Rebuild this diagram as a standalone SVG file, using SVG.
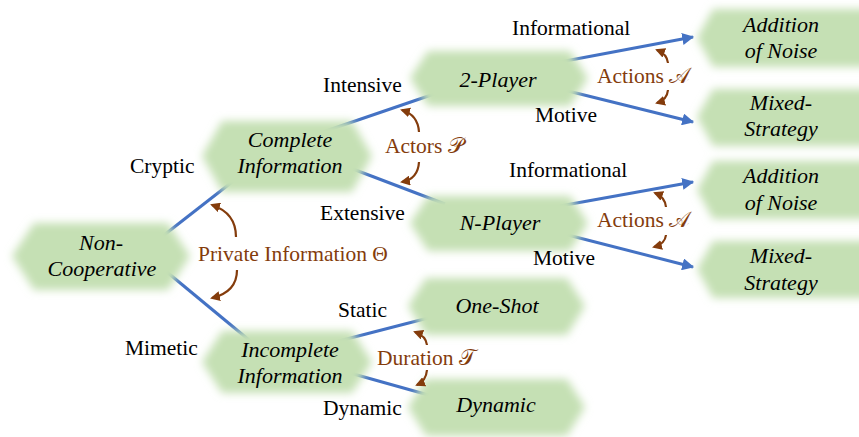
<svg xmlns="http://www.w3.org/2000/svg" width="859" height="437" viewBox="0 0 859 437">
<defs>
<filter id="soft" x="-10%" y="-20%" width="120%" height="140%"><feGaussianBlur stdDeviation="4.5"/></filter>
<marker id="blueHead" viewBox="0 0 10 10" refX="9" refY="5" markerWidth="4" markerHeight="4" orient="auto" markerUnits="strokeWidth"><path d="M0,0 L10,5 L0,10 z" fill="#4472c4"/></marker>
<marker id="brownHead" viewBox="0 0 10 10" refX="8" refY="5" markerWidth="4.5" markerHeight="4.5" orient="auto" markerUnits="strokeWidth"><path d="M0,0 L10,5 L0,10 z" fill="#843c0c"/></marker>
</defs>
<rect width="859" height="437" fill="#fff"/>
<g id="connectors" stroke="#4472c4" stroke-width="3" fill="none">
<line x1="150" y1="246" x2="250" y2="168"/>
<line x1="150" y1="258" x2="255" y2="345"/>
<line x1="320" y1="133" x2="440" y2="92"/>
<line x1="345" y1="166" x2="445" y2="204"/>
<line x1="335" y1="342" x2="432" y2="317"/>
<line x1="350" y1="373" x2="432" y2="396"/>
<line marker-end="url(#blueHead)" x1="560" y1="62" x2="693" y2="37"/>
<line marker-end="url(#blueHead)" x1="560" y1="89" x2="693" y2="122"/>
<line marker-end="url(#blueHead)" x1="560" y1="206" x2="693" y2="182"/>
<line marker-end="url(#blueHead)" x1="560" y1="233" x2="693" y2="267"/>
</g>
<g id="nodes" fill="#c5e0b4" filter="url(#soft)">
<path id="shape-noncoop" d="M12,256 L34,223 L168,223 L190,256 L168,290 L34,290 Z"/>
<path id="shape-complete" d="M202,156 L222,121 L352,121 L372,156 L352,192 L222,192 Z"/>
<path id="shape-2player" d="M410,78 L428,51 L570,51 L588,78 L570,106 L428,106 Z"/>
<path id="shape-nplayer" d="M410,223 L428,196 L570,196 L588,223 L570,251 L428,251 Z"/>
<path id="shape-add1" d="M697,38 L713,9 L870,9 L870,67 L713,67 Z"/>
<path id="shape-mix1" d="M697,117 L713,89 L870,89 L870,146 L713,146 Z"/>
<path id="shape-add2" d="M697,190 L713,161 L870,161 L870,219 L713,219 Z"/>
<path id="shape-mix2" d="M697,269 L713,241 L870,241 L870,298 L713,298 Z"/>
<path id="shape-incomplete" d="M202,362 L222,331 L352,331 L372,362 L352,393 L222,393 Z"/>
<path id="shape-oneshot" d="M408,306 L426,278 L567,278 L585,306 L567,335 L426,335 Z"/>
<path id="shape-dynamic" d="M408,407 L426,379 L567,379 L585,407 L567,436 L426,436 Z"/>
</g>
<g id="node-texts" font-family="'Liberation Serif', 'Times New Roman', serif" font-style="italic" font-size="22px" fill="#000" text-anchor="middle">
<g id="n-noncoop"><text x="101" y="250">Non-</text><text x="102" y="276">Cooperative</text></g>
<g id="n-complete"><text x="290" y="147">Complete</text><text x="290" y="173">Information</text></g>
<g id="n-2player"><text x="498" y="87">2-Player</text></g>
<g id="n-nplayer"><text x="500" y="230">N-Player</text></g>
<g id="n-add1"><text x="781" y="32">Addition</text><text x="781" y="58">of Noise</text></g>
<g id="n-mix1"><text x="781" y="110">Mixed-</text><text x="781" y="136">Strategy</text></g>
<g id="n-add2"><text x="781" y="183">Addition</text><text x="781" y="210">of Noise</text></g>
<g id="n-mix2"><text x="781" y="263">Mixed-</text><text x="781" y="290">Strategy</text></g>
<g id="n-incomplete"><text x="290" y="357">Incomplete</text><text x="290" y="383">Information</text></g>
<g id="n-oneshot"><text x="497" y="313">One-Shot</text></g>
<g id="n-dynamic"><text x="496" y="412">Dynamic</text></g>
</g>
<g id="edge-labels" font-family="'Liberation Serif', 'Times New Roman', serif" font-size="21.5px" fill="#000">
<text x="130" y="173">Cryptic</text>
<text x="125" y="355">Mimetic</text>
<text x="323" y="92">Intensive</text>
<text x="320" y="220">Extensive</text>
<text x="512" y="35">Informational</text>
<text x="535" y="122">Motive</text>
<text x="509" y="177">Informational</text>
<text x="533" y="265">Motive</text>
<text x="338" y="317">Static</text>
<text x="323" y="415">Dynamic</text>
</g>
<g id="dimension-labels" font-family="'Liberation Serif', 'Times New Roman', serif" font-size="21.5px" fill="#843c0c">
<text x="198" y="261">Private Information Θ</text>
<text x="385" y="153">Actors 𝒫</text>
<text x="597" y="83">Actions 𝒜</text>
<text x="597" y="227">Actions 𝒜</text>
<text x="377" y="365">Duration 𝒯</text>
</g>
<g id="dimension-arrows" stroke="#843c0c" stroke-width="2.2" fill="none" marker-end="url(#brownHead)">
<path d="M236,237 Q236,213 212,205"/>
<path d="M237,270 Q237,292 212,298"/>
<path d="M419,132 Q418,115 402,110"/>
<path d="M419,162 Q418,179 402,182"/>
<path d="M668,63 Q667,54 657,50"/>
<path d="M668,90 Q667,100 657,103"/>
<path d="M666,207 Q665,197 655,193"/>
<path d="M666,235 Q665,244 654,247"/>
<path d="M427,345 Q426,336 415,332"/>
<path d="M427,370 Q426,381 417,385"/>
</g>
</svg>
